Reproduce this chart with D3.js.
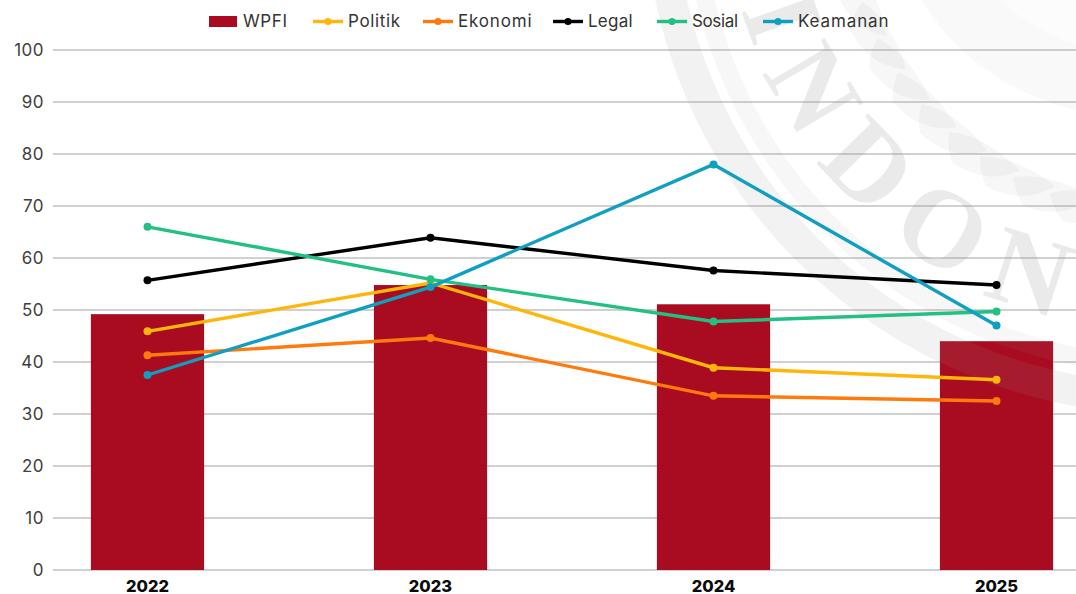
<!DOCTYPE html>
<html>
<head>
<meta charset="utf-8">
<script src="https://cdn.jsdelivr.net/npm/d3@7"></script>
<style>
body{margin:0;background:#fff;overflow:hidden}
text{font-family:"Inter","Open Sans",sans-serif}
</style>
</head>
<body>
<svg id="chart" width="1076" height="594"></svg>
<script>
// data
var years=["2022","2023","2024","2025"];
var yTicks=[0,10,20,30,40,50,60,70,80,90,100];
var wpfi=[49.2,54.8,51.1,44.0];
var politik=[45.9,55.2,38.9,36.6];
var ekonomi=[41.3,44.6,33.5,32.5];
var legal=[55.7,63.9,57.6,54.8];
var sosial=[66.0,55.9,47.8,49.7];
var keamanan=[37.5,54.4,78.0,47.0];
var seriesNames=["Politik","Ekonomi","Legal","Sosial","Keamanan"];
var seriesValues=[politik,ekonomi,legal,sosial,keamanan];
var seriesColors=["#ffb60a","#ff7a0d","#000000","#22c082","#0f9fc0"];
var barColor="#a90c20";

var svg=d3.select("#chart");
var x=d3.scaleBand().domain(years).range([6,1138]).paddingInner(0.6).paddingOuter(0.3);
var y=d3.scaleLinear().domain([0,100]).range([570,50]);
var cx=function(d){return x(d)+x.bandwidth()/2};

// grid
svg.append("g").selectAll("line").data(yTicks).join("line")
	.attr("x1",53).attr("x2",1076)
	.attr("y1",function(d){return y(d)}).attr("y2",function(d){return y(d)})
	.attr("stroke","#d0d0d0").attr("stroke-width",1.8);

svg.append("g").selectAll("text").data(yTicks).join("text")
	.attr("x",44).attr("y",function(d){return y(d)+6})
	.attr("text-anchor","end").attr("font-size",17).attr("fill","#404040")
	.style("letter-spacing","0.5px")
	.text(function(d){return d});

// bars
svg.append("g").selectAll("rect").data(wpfi).join("rect")
	.attr("x",function(d,i){return x(years[i])})
	.attr("y",function(d){return y(d)})
	.attr("width",x.bandwidth())
	.attr("height",function(d){return y(0)-y(d)})
	.attr("fill",barColor);

// filigrane
var wmX=1166,wmY=-108;
var wm=svg.append("g").attr("fill","none");
wm.append("circle").attr("cx",wmX).attr("cy",wmY).attr("r",506.5)
	.attr("stroke","rgba(150,150,150,0.12)").attr("stroke-width",31);
wm.append("circle").attr("cx",wmX).attr("cy",wmY).attr("r",473)
	.attr("stroke","rgba(150,150,150,0.08)").attr("stroke-width",18);
wm.append("circle").attr("cx",1130).attr("cy",-130).attr("r",246)
	.attr("fill","rgba(150,150,150,0.06)");
wm.append("circle").attr("cx",1140).attr("cy",-150).attr("r",205)
	.attr("fill","rgba(255,255,255,0.5)");

// feuilles
for(var a=70;a>=8;a-=7){
	wm.append("path")
		.attr("d","M -40 -7 C -17 -21 17 -21 40 -16 C 28 5 7 16 -21 16 C -30 9 -35 2 -40 -7 Z")
		.attr("transform","translate("+wmX+","+wmY+") rotate("+a+") translate(0,328)")
		.attr("fill","rgba(150,150,150,0.08)");
}

svg.append("defs").append("path").attr("id","arcTexte")
	.attr("d","M "+(wmX-440)+" "+wmY+" A 440 440 0 0 0 "+wmX+" "+(wmY+440));
svg.append("text").style("font-family","'Liberation Serif',serif")
	.attr("font-size",110).attr("font-weight",700).attr("fill","rgba(150,150,150,0.2)")
	.style("letter-spacing","24px")
	.append("textPath").attr("href","#arcTexte").attr("startOffset",118).text("INDON");

// lines
var line=d3.line().x(function(d,i){return cx(years[i])}).y(function(d){return y(d)});
seriesValues.forEach(function(vals,k){
	var g=svg.append("g");
	g.append("path").attr("d",line(vals)).attr("fill","none")
		.attr("stroke",seriesColors[k]).attr("stroke-width",3.4);
	g.selectAll("circle").data(vals).join("circle")
		.attr("cx",function(d,i){return cx(years[i])})
		.attr("cy",function(d){return y(d)})
		.attr("r",4).attr("fill",seriesColors[k]);
});

// x labels
svg.append("g").selectAll("text").data(years).join("text")
	.attr("x",function(d){return cx(d)}).attr("y",591.5)
	.attr("text-anchor","middle").attr("font-size",16.5).attr("font-weight",800).attr("fill","#0b0b0b")
	.text(function(d){return d});

// legend
var leg=svg.append("g");
leg.append("rect").attr("x",209).attr("y",16).attr("width",28).attr("height",11).attr("fill",barColor);
leg.append("text").attr("x",243).attr("y",27).attr("font-size",17).attr("fill","#333")
	.attr("textLength",44).text("WPFI");
var legX=[313,423,553,657,763];
var legW=[52,73.5,44.6,46,90.5];
seriesNames.forEach(function(n,k){
	leg.append("line").attr("x1",legX[k]).attr("x2",legX[k]+30).attr("y1",21.5).attr("y2",21.5)
		.attr("stroke",seriesColors[k]).attr("stroke-width",3.4);
	leg.append("circle").attr("cx",legX[k]+15).attr("cy",21.5).attr("r",3.6).attr("fill",seriesColors[k]);
	leg.append("text").attr("x",legX[k]+35).attr("y",27).attr("font-size",17).attr("fill","#333")
		.attr("textLength",legW[k]).text(n);
});
</script>
</body>
</html>
